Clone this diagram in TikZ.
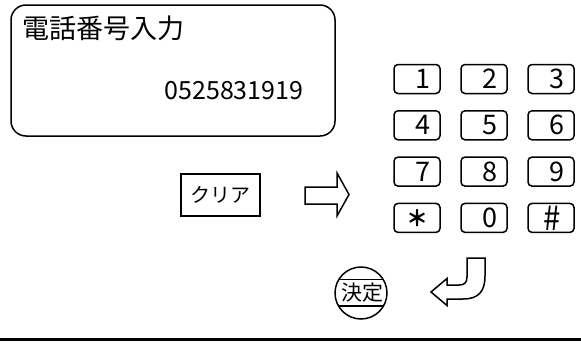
\documentclass[tikz,border=0pt]{standalone}
\usepackage{fontspec}
\setmainfont{Noto Sans CJK JP}
\begin{document}
\begin{tikzpicture}[x=1pt,y=-1pt,
  line width=1.5pt,
  key/.style={draw,rounded corners=4pt,minimum width=46pt,minimum height=29pt,inner sep=0pt},
  keytxt/.style={inner sep=0pt,font=\fontsize{27}{30}\selectfont},
  arrowshape/.style={draw,line join=miter}]
\useasboundingbox (0,0) rectangle (581,343);
% screen
\node[draw,rounded corners=15pt,minimum width=324pt,minimum height=131pt,inner sep=0pt] (screen) at (173,70.5) {};
\node[anchor=west,inner sep=0pt,font=\fontsize{27}{30}\selectfont] (title) at (22,28) {電話番号入力};
\node[anchor=east,inner sep=0pt,font=\fontsize{25}{28}\selectfont] (num) at (304,91) {0525831919};
% keypad
\foreach \lab/\c/\r/\nm in {1/0/0/k1,2/1/0/k2,3/2/0/k3,4/0/1/k4,5/1/1/k5,6/2/1/k6,7/0/2/k7,8/1/2/k8,9/2/2/k9,0/1/3/k0}{
  \node[key] (\nm) at (417+67*\c,79+46.3*\r) {};
  \node[keytxt] (\nm t) at ([xshift=6pt]\nm.center) {\lab};
}
\node[key] (ks) at (417,217.9) {};
\node[inner sep=0pt,font=\fontsize{22}{26}\selectfont\bfseries] (kst) at ([yshift=0pt]ks.center) {＊};
\node[key] (kh) at (551,217.9) {};
\node[inner sep=0pt,font=\fontsize{24}{28}\selectfont] (kht) at ([xshift=1pt]kh.center) {\scalebox{1.3}[1.4]{\#}};
% clear button
\node[draw,minimum width=79pt,minimum height=42pt,inner sep=0pt,font=\fontsize{20}{24}\selectfont] (clear) at (220.5,195) {クリア};
% right arrow
\draw[arrowshape] (305,187) -- (337,187) -- (337,173) -- (349,194.5) -- (337,216) -- (337,204) -- (305,204) -- cycle;
% decide button
\node[draw,circle,minimum size=52pt,inner sep=0pt] (ok) at (361,293) {};
\begin{scope}
\clip (ok.center) circle (26pt);
\draw (330,279.5) -- (392,279.5);
\draw (330,306) -- (392,306);
\end{scope}
\node[inner sep=0pt,font=\fontsize{21}{24}\selectfont] (oktxt) at (362.5,293) {決定};
% return arrow
\draw[arrowshape] (467,258) -- (485,258) -- (485,276) .. controls (485,292) and (478,299) .. (463,299)
  -- (447,299) -- (447,305.5) -- (431,292) -- (447,278.5) -- (447,285)
  -- (459,285) .. controls (464,285) and (467,283) .. (467,277) -- cycle;
% bottom line
\draw[line width=2.5pt] (0,339.5) -- (581,339.5);
\end{tikzpicture}
\end{document}
